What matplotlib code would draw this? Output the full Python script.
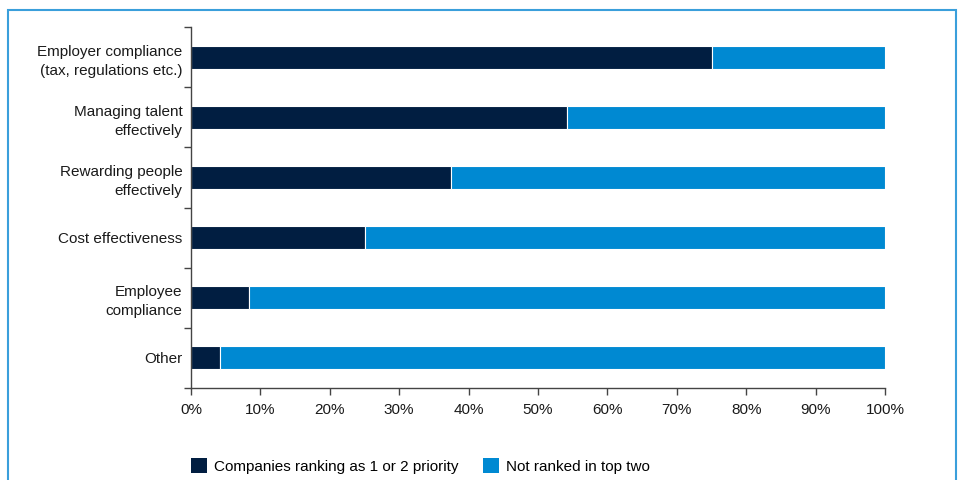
import numpy as np
import matplotlib.pyplot as plt
from matplotlib.patches import Patch, Rectangle

plt.rcParams['font.family'] = ['Liberation Sans', 'DejaVu Sans']

categories = [
    'Employer compliance\n(tax, regulations etc.)',
    'Managing talent\neffectively',
    'Rewarding people\neffectively',
    'Cost effectiveness',
    'Employee\ncompliance',
    'Other',
]
# share of companies (n=24) ranking each area as priority 1 or 2
top_two = [75.0, 54.2, 37.5, 25.0, 8.3, 4.2]
not_top_two = [100 - v for v in top_two]
x_ticks = [0, 10, 20, 30, 40, 50, 60, 70, 80, 90, 100]
x_tick_labels = [f'{t}%' for t in x_ticks]
series_labels = ['Companies ranking as 1 or 2 priority', 'Not ranked in top two']

dark = '#011E41'
light = '#0089D2'
border = '#3A9FDB'
axis_col = '#444444'
fs = 11

fig = plt.figure(figsize=(9.6, 4.8), dpi=100)
ax = fig.add_axes([191 / 960, 1 - 388 / 480, (885 - 191) / 960, (388 - 27) / 480])

y = np.arange(len(categories))
ax.barh(y, top_two, height=0.38, color=dark, edgecolor='white', linewidth=0.8)
ax.barh(y, not_top_two, left=top_two, height=0.38, color=light,
        edgecolor='white', linewidth=0.8)

ax.set_xlim(0, 100)
ax.set_ylim(len(categories) - 0.5, -0.5)

ax.set_yticks(y)
ax.set_yticklabels(categories, fontsize=fs, color='#1a1a1a', linespacing=1.45)
ax.set_yticks(np.arange(len(categories) + 1) - 0.5, minor=True)
ax.tick_params(axis='y', which='major', length=0, pad=6)
ax.tick_params(axis='y', which='minor', length=5, width=1, color=axis_col)

ax.set_xticks(x_ticks)
ax.set_xticklabels(x_tick_labels, fontsize=fs, color='#1a1a1a')
ax.tick_params(axis='x', length=5, width=1, color=axis_col, pad=6)

for s in ['top', 'right']:
    ax.spines[s].set_visible(False)
for s in ['left', 'bottom']:
    ax.spines[s].set_color(axis_col)
    ax.spines[s].set_linewidth(1)

handles = [Patch(facecolor=dark, edgecolor='none'), Patch(facecolor=light, edgecolor='none')]
fig.legend(handles, series_labels, loc='lower left', bbox_to_anchor=(177 / 960, -0.016),
           ncol=2, frameon=False, fontsize=fs, handlelength=1.05, handleheight=1.1,
           handletextpad=0.45, columnspacing=1.6)

# light blue frame around the panel, open at the bottom
fig.patches.append(Rectangle((8 / 960, -0.05), (956 - 8) / 960, 1.05 - 10 / 480,
                             transform=fig.transFigure, fill=False,
                             edgecolor=border, linewidth=1.5))

fig.savefig('out.png', dpi=100)
